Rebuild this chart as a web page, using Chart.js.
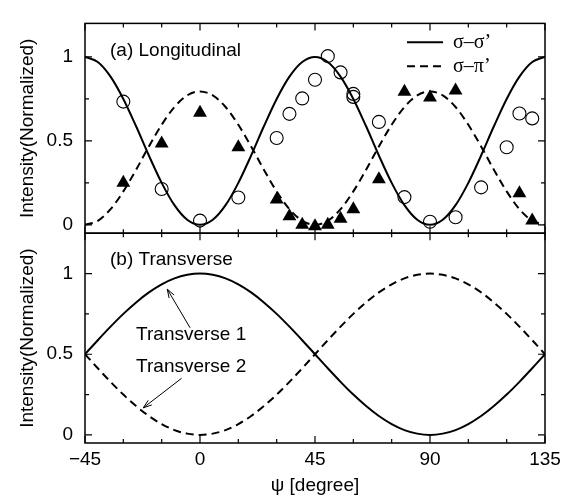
<!DOCTYPE html>
<html><head><meta charset="utf-8">
<script src="https://cdn.jsdelivr.net/npm/chart.js@4.4.0/dist/chart.umd.min.js"></script>
<style>html,body{margin:0;padding:0;background:#fff;} #wrap{width:578px;height:497px;position:relative;}</style>
</head><body><div id="wrap"><canvas id="c" width="578" height="497"></canvas></div>
<script>
// ---- data ----
const curveX = [-45,-40,-35,-30,-25,-20,-15,-10,-5,0,5,10,15,20,25,30,35,40,45,50,55,60,65,70,75,80,85,90,95,100,105,110,115,120,125,130,135];
const sigmaSigma = [1.000,0.970,0.883,0.750,0.587,0.413,0.250,0.117,0.030,0.000,0.030,0.117,0.250,0.413,0.587,0.750,0.883,0.970,1.000,0.970,0.883,0.750,0.587,0.413,0.250,0.117,0.030,0.000,0.030,0.117,0.250,0.413,0.587,0.750,0.883,0.970,1.000];
const sigmaPi = [0.000,0.024,0.093,0.199,0.328,0.467,0.596,0.702,0.771,0.795,0.771,0.702,0.596,0.467,0.328,0.199,0.093,0.024,0.000,0.024,0.093,0.199,0.328,0.467,0.596,0.702,0.771,0.795,0.771,0.702,0.596,0.467,0.328,0.199,0.093,0.024,0.000];
const transverse1 = [0.500,0.587,0.671,0.750,0.821,0.883,0.933,0.970,0.992,1.000,0.992,0.970,0.933,0.883,0.821,0.750,0.671,0.587,0.500,0.413,0.329,0.250,0.179,0.117,0.067,0.030,0.008,0.000,0.008,0.030,0.067,0.117,0.179,0.250,0.329,0.413,0.500];
const transverse2 = [0.500,0.413,0.329,0.250,0.179,0.117,0.067,0.030,0.008,0.000,0.008,0.030,0.067,0.117,0.179,0.250,0.329,0.413,0.500,0.587,0.671,0.750,0.821,0.883,0.933,0.970,0.992,1.000,0.992,0.970,0.933,0.883,0.821,0.750,0.671,0.587,0.500];
const circleX = [-30,-15,0,15,30,35,40,45,50,55,60,60,70,80,90,100,110,120,125,130];
const circleY = [0.734,0.213,0.025,0.163,0.517,0.661,0.753,0.864,1.005,0.908,0.780,0.762,0.613,0.165,0.018,0.045,0.223,0.462,0.663,0.634];
const triX = [-30,-15,0,15,30,35,40,45,50,55,60,70,80,90,100,125,130];
const triY = [0.251,0.485,0.667,0.462,0.151,0.051,0.000,-0.008,0.000,0.036,0.093,0.271,0.793,0.758,0.800,0.188,0.026];
const xTickValues = [-45,-30,-15,0,15,30,45,60,75,90,105,120,135];
const xTickLabels = ['\u221245','','','0','','','45','','','90','','','135'];
const yTickValues = [0,0.25,0.5,0.75,1];
const yTickLabels = ['0','','0.5','','1'];
const legendLabels = ['\u03c3\u2013\u03c3\u2019','\u03c3\u2013\u03c0\u2019'];
const panelLabels = ['(a) Longitudinal','(b) Transverse'];
const noteLabels = ['Transverse 1','Transverse 2'];

const SANS = "'Liberation Sans', Arial, sans-serif";
const SERIF = "'Liberation Serif', 'Times New Roman', serif";
const pts = (xs, ys) => xs.map((x, i) => ({x: x, y: ys[i]}));

const yScaleOpts = (max) => ({
  type: 'linear', position: 'left', stack: 'panels', stackWeight: 1,
  min: -0.05, max: max,
  afterBuildTicks: s => { s.ticks = yTickValues.map(v => ({value: v})); },
  afterFit: s => { s.width = 85; },
  ticks: {callback: (v, i) => yTickLabels[i], autoSkip: false, padding: 12, color: '#000', font: {family: SANS, size: 19}},
  grid: {display: false, drawTicks: false},
  border: {display: false},
  title: {display: true, text: 'Intensity(Normalized)', color: '#000', font: {family: SANS, size: 19}, padding: {top: 16, bottom: 0}}
});

const decor = {
  id: 'decor',
  afterDraw(chart) {
    const ctx = chart.ctx, x = chart.scales.x;
    const panels = [chart.scales.yA, chart.scales.yB];
    ctx.save();
    ctx.strokeStyle = '#000'; ctx.fillStyle = '#000';
    ctx.lineWidth = 1.5;
    panels.forEach(s => {
      ctx.strokeRect(x.left, s.top, x.right - x.left, s.bottom - s.top);
      ctx.beginPath();
      xTickValues.forEach(v => {
        const px = x.getPixelForValue(v), len = (v % 45 === 0) ? 7 : 4;
        ctx.moveTo(px, s.top); ctx.lineTo(px, s.top + len);
        ctx.moveTo(px, s.bottom); ctx.lineTo(px, s.bottom - len);
      });
      yTickValues.forEach(v => {
        const py = s.getPixelForValue(v), len = (v % 0.5 === 0) ? 7 : 4;
        ctx.moveTo(x.left, py); ctx.lineTo(x.left + len, py);
        ctx.moveTo(x.right, py); ctx.lineTo(x.right - len, py);
      });
      ctx.lineWidth = 1.2;
      ctx.stroke();
      ctx.lineWidth = 1.5;
    });
    const yA = chart.scales.yA, yB = chart.scales.yB;
    // panel labels
    ctx.font = '19px ' + SANS; ctx.textBaseline = 'middle'; ctx.textAlign = 'left';
    ctx.fillText(panelLabels[0], x.getPixelForValue(-35.2), yA.getPixelForValue(1.036));
    ctx.fillText(panelLabels[1], x.getPixelForValue(-35.2), yB.getPixelForValue(1.088));
    // legend
    const lx0 = x.getPixelForValue(81), lx1 = x.getPixelForValue(95.1), tx = x.getPixelForValue(99);
    const ly = [yA.getPixelForValue(1.087), yA.getPixelForValue(0.944)];
    ctx.lineWidth = 2;
    ctx.beginPath(); ctx.moveTo(lx0, ly[0]); ctx.lineTo(lx1, ly[0]); ctx.stroke();
    ctx.setLineDash([8, 5]);
    ctx.beginPath(); ctx.moveTo(lx0, ly[1]); ctx.lineTo(lx1, ly[1]); ctx.stroke();
    ctx.setLineDash([]);
    ctx.font = '20px ' + SERIF;
    ctx.fillText(legendLabels[0], tx, ly[0]);
    ctx.fillText(legendLabels[1], tx, ly[1]);
    // annotations
    ctx.font = '19px ' + SANS;
    ctx.fillText(noteLabels[0], x.getPixelForValue(-25), yB.getPixelForValue(0.62));
    ctx.fillText(noteLabels[1], x.getPixelForValue(-25), yB.getPixelForValue(0.425));
    const arrow = (x0, y0, x1, y1) => {
      const ax = x.getPixelForValue(x0), ay = yB.getPixelForValue(y0);
      const bx = x.getPixelForValue(x1), by = yB.getPixelForValue(y1);
      const ang = Math.atan2(by - ay, bx - ax), h = 9, w = 0.33;
      ctx.lineWidth = 1;
      ctx.beginPath();
      ctx.moveTo(ax, ay); ctx.lineTo(bx, by);
      ctx.moveTo(bx - h * Math.cos(ang - w), by - h * Math.sin(ang - w));
      ctx.lineTo(bx, by);
      ctx.lineTo(bx - h * Math.cos(ang + w), by - h * Math.sin(ang + w));
      ctx.stroke();
    };
    arrow(-3.9, 0.664, -12.8, 0.903);
    arrow(-7.2, 0.351, -22.2, 0.168);
    ctx.restore();
  }
};

new Chart(document.getElementById('c'), {
  data: {
    datasets: [
      {type: 'scatter', yAxisID: 'yA', data: pts(triX, triY), pointStyle: 'triangle', pointRadius: 8, backgroundColor: '#000', borderColor: '#000', borderWidth: 0},
      {type: 'scatter', yAxisID: 'yA', data: pts(circleX, circleY), pointStyle: 'circle', pointRadius: 6.5, backgroundColor: 'rgba(0,0,0,0)', borderColor: '#000', borderWidth: 1.1},
      {type: 'line', yAxisID: 'yA', data: pts(curveX, sigmaSigma), borderColor: '#000', borderWidth: 2, pointRadius: 0, cubicInterpolationMode: 'monotone', fill: false},
      {type: 'line', yAxisID: 'yA', data: pts(curveX, sigmaPi), borderColor: '#000', borderWidth: 2, borderDash: [8, 5], pointRadius: 0, cubicInterpolationMode: 'monotone', fill: false},
      {type: 'line', yAxisID: 'yB', data: pts(curveX, transverse1), borderColor: '#000', borderWidth: 2, pointRadius: 0, cubicInterpolationMode: 'monotone', fill: false},
      {type: 'line', yAxisID: 'yB', data: pts(curveX, transverse2), borderColor: '#000', borderWidth: 2, borderDash: [8, 5], pointRadius: 0, cubicInterpolationMode: 'monotone', fill: false}
    ]
  },
  options: {
    responsive: false, animation: false, devicePixelRatio: 1,
    layout: {padding: {top: 7, right: 33, left: 0, bottom: 0}},
    plugins: {legend: {display: false}, tooltip: {enabled: false}},
    scales: {
      x: {
        type: 'linear', min: -45, max: 135,
        afterBuildTicks: s => { s.ticks = xTickValues.map(v => ({value: v})); },
        afterFit: s => { s.height = 54; },
        ticks: {callback: (v, i) => xTickLabels[i], autoSkip: false, maxRotation: 0, padding: 5, color: '#000', font: {family: SANS, size: 19}},
        grid: {display: false, drawTicks: false},
        border: {display: false},
        title: {display: true, text: '\u03c8 [degree]', color: '#000', font: {family: SANS, size: 19}, padding: {top: 0, bottom: 0}}
      },
      yB: yScaleOpts(1.25),
      yA: yScaleOpts(1.2)
    }
  },
  plugins: [decor]
});
</script>
</body></html>
